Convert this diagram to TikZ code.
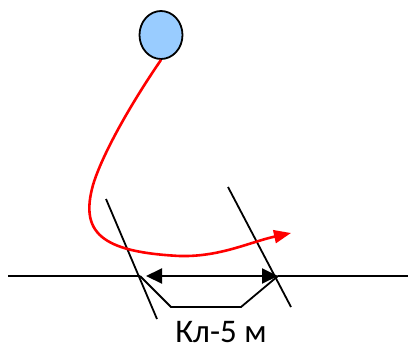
\documentclass[tikz,border=0pt]{standalone}
\usepackage{fontspec}
\setmainfont{Carlito}
\usetikzlibrary{arrows.meta,shapes.geometric}
\begin{document}
\begin{tikzpicture}[x=1pt,y=-1pt,
  blk/.style={draw=black,line width=1.8pt},
  redpath/.style={draw=red,line width=2.6pt,-{Triangle[length=17pt,width=13pt]}},
  dim/.style={draw=black,line width=2pt,{Triangle[length=16pt,width=15pt]}-{Triangle[length=16pt,width=15pt]}},
  ball/.style={ellipse,draw=black,line width=1.8pt,fill={rgb,255:red,153;green,204;blue,255},minimum width=43pt,minimum height=48pt,inner sep=0pt},
  lbl/.style={font=\fontsize{33}{38}\selectfont,anchor=base,inner sep=0pt}]
\useasboundingbox (0,0) rectangle (408,349);
\node[ball] (ball) at (161,35) {};
\coordinate (hl) at (8,276);
\coordinate (hr) at (408,276);
\coordinate (pl) at (140,276);
\coordinate (pr) at (278,276);
\coordinate (al) at (146,276);
\coordinate (ar) at (278,276);
\coordinate (bl) at (171,307);
\coordinate (br) at (241,307);
\coordinate (l1) at (106,199);
\coordinate (l2) at (157,319);
\coordinate (r1) at (228,187);
\coordinate (r2) at (291,307);
\coordinate (tip) at (291,233);
\draw[blk] (hl) -- (pl);
\draw[blk] (pr) -- (hr);
\draw[blk] (l1) -- (l2);
\draw[blk] (r1) -- (r2);
\draw[blk] (pl) -- (bl) -- (br) -- (pr);
\draw[dim] (al) -- (ar);
\draw[redpath] (ball.south) .. controls (130,105) and (102,155) .. (93,185)
  .. controls (80,232) and (100,252) .. (180,256)
  .. controls (220,257) and (250,242) .. (tip);
\node[lbl] (cap) at (221,342) {Кл-5 м};
\end{tikzpicture}
\end{document}
